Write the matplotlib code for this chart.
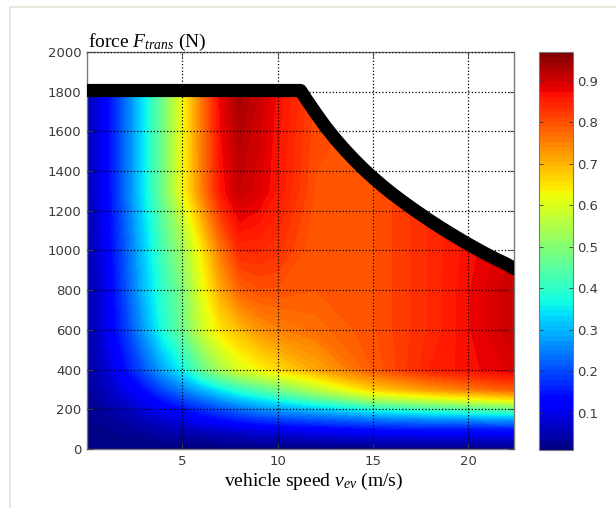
import numpy as np
import matplotlib
matplotlib.use("Agg")
import matplotlib.pyplot as plt
from matplotlib.lines import Line2D

plt.rcParams['mathtext.fontset'] = 'custom'
plt.rcParams['mathtext.rm'] = 'Liberation Serif'
plt.rcParams['mathtext.it'] = 'Liberation Serif:italic'

# efficiency map
speed = [0, 1, 2, 3, 4, 5, 6, 7, 8, 9, 10, 12, 15, 18, 22.4]          # m/s
force = [0, 50, 100, 150, 200, 250, 300, 400, 600, 800, 1000, 1300, 1800]  # N
eff = [
    [0.01, 0.01, 0.01, 0.01, 0.01, 0.01, 0.01, 0.01, 0.01, 0.01, 0.01, 0.01, 0.01, 0.01, 0.01],
    [0.01, 0.01, 0.02, 0.02, 0.03, 0.03, 0.03, 0.04, 0.04, 0.05, 0.05, 0.06, 0.07, 0.07, 0.07],
    [0.01, 0.02, 0.03, 0.04, 0.05, 0.06, 0.07, 0.08, 0.09, 0.10, 0.11, 0.12, 0.14, 0.15, 0.15],
    [0.02, 0.03, 0.04, 0.06, 0.08, 0.10, 0.12, 0.14, 0.16, 0.18, 0.19, 0.21, 0.24, 0.26, 0.28],
    [0.02, 0.04, 0.06, 0.09, 0.12, 0.14, 0.17, 0.20, 0.23, 0.26, 0.28, 0.31, 0.37, 0.41, 0.45],
    [0.02, 0.05, 0.08, 0.11, 0.15, 0.19, 0.23, 0.27, 0.31, 0.34, 0.37, 0.44, 0.54, 0.59, 0.65],
    [0.03, 0.06, 0.10, 0.14, 0.20, 0.25, 0.30, 0.35, 0.40, 0.44, 0.48, 0.56, 0.67, 0.73, 0.79],
    [0.03, 0.08, 0.14, 0.21, 0.29, 0.36, 0.46, 0.54, 0.60, 0.63, 0.66, 0.71, 0.79, 0.85, 0.89],
    [0.04, 0.10, 0.18, 0.28, 0.38, 0.47, 0.58, 0.65, 0.69, 0.73, 0.75, 0.77, 0.80, 0.84, 0.91],
    [0.04, 0.10, 0.20, 0.31, 0.40, 0.49, 0.61, 0.71, 0.78, 0.80, 0.80, 0.79, 0.80, 0.84, 0.91],
    [0.04, 0.11, 0.21, 0.32, 0.43, 0.53, 0.64, 0.76, 0.84, 0.84, 0.83, 0.79, 0.80, 0.84, 0.90],
    [0.05, 0.12, 0.23, 0.35, 0.48, 0.62, 0.75, 0.86, 0.91, 0.89, 0.86, 0.80, 0.80, 0.84, 0.90],
    [0.05, 0.12, 0.23, 0.35, 0.48, 0.62, 0.76, 0.88, 0.94, 0.91, 0.87, 0.81, 0.80, 0.84, 0.90],
]

# max force curve (black boundary)
v_max = [0, 11.2, 11.5, 12, 12.5, 13, 13.5, 14, 14.5, 15, 15.5, 16, 16.5, 17,
         17.5, 18, 18.5, 19, 19.5, 20, 20.5, 21, 21.5, 22, 22.4, 23]
f_max = [1806, 1806, 1762, 1692, 1625, 1565, 1510, 1459, 1411, 1367, 1326, 1287,
         1251, 1216, 1183, 1150, 1119, 1089, 1060, 1032, 1005, 979, 955, 932, 910, 885]

W, H = 616, 508
fig = plt.figure(figsize=(W / 100, H / 100), dpi=100)

# light frame of the original screenshot
fig.add_artist(Line2D([10 / W, 10 / W], [0, 1 - 7 / H], color='#e6e2d4', lw=1.2))
fig.add_artist(Line2D([10 / W, 1], [1 - 7 / H, 1 - 7 / H], color='#e6e2d4', lw=1.2))

ax = fig.add_axes([87 / W, 1 - 449 / H, (514 - 87) / W, (449 - 52) / H])
cax = fig.add_axes([539 / W, 1 - 450 / H, 34 / W, 398 / H])

levels = np.linspace(0.01, 0.97, 81)
cs = ax.contourf(speed, force, np.array(eff), levels=levels, cmap='jet',
                 vmin=0.01, vmax=0.97, zorder=1)
ax.fill_between(v_max, f_max, 2000, color='white', zorder=1.5)
ax.plot(v_max, f_max, color='k', lw=9.5, solid_joinstyle='round',
        solid_capstyle='butt', zorder=4)

ax.set_xlim(0, 22.4)
ax.set_ylim(0, 2000)
ax.set_xticks([5, 10, 15, 20])
ax.set_yticks(range(0, 2001, 200))
ax.grid(True, color='k', ls=':', lw=0.9)
ax.set_axisbelow(False)
ax.tick_params(direction='in', top=True, right=True, length=4, width=0.6,
               labelsize=9.5, labelcolor='#3a3a3a', color='#444444', pad=4)
for s in ax.spines.values():
    s.set_color('#7a7a7a')
    s.set_linewidth(1.0)

cb = fig.colorbar(cs, cax=cax, ticks=[0.1, 0.2, 0.3, 0.4, 0.5, 0.6, 0.7, 0.8, 0.9])
cb.ax.set_yticklabels(['0.1', '0.2', '0.3', '0.4', '0.5', '0.6', '0.7', '0.8', '0.9'])
cb.ax.tick_params(direction='in', left=True, right=True, length=3, width=0.6,
                  labelsize=9.5, labelcolor='#3a3a3a', color='#333333', pad=3)
cb.outline.set_edgecolor('#7a7a7a')

fig.text(88 / W, 1 - 47 / H, r'force $F_{trans}$ (N)', fontsize=14,
         family='Liberation Serif', va='baseline', ha='left')
fig.text(313 / W, 1 - 486 / H, r'vehicle speed $v_{ev}$ (m/s)', fontsize=14,
         family='Liberation Serif', va='baseline', ha='center')

fig.savefig('out.png', dpi=100)
